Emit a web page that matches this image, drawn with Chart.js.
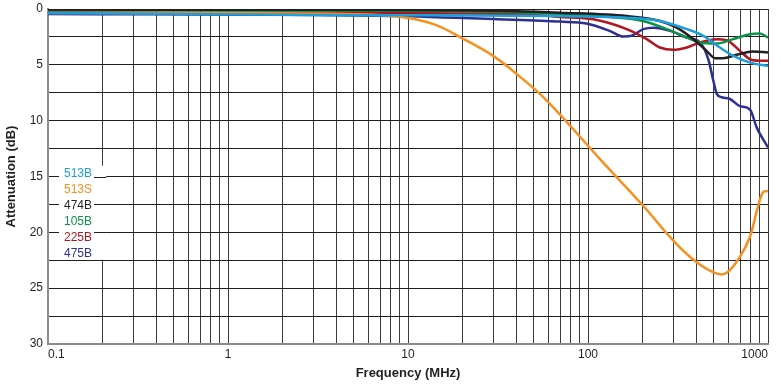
<!DOCTYPE html>
<html>
<head>
<meta charset="utf-8">
<script src="https://cdn.jsdelivr.net/npm/chart.js@4.4.1/dist/chart.umd.min.js"></script>
<style>
  html, body { margin: 0; padding: 0; background: #fff; }
  canvas { display: block; }
</style>
</head>
<body>
<canvas id="graphId" width="781" height="388"></canvas>
<script>
////////////////////////////// data \\\\\\\\\\\\\\\\\\\\\\\\\\\\\\

// axis labels
const decades = [0.1, 1, 10, 100, 1000];
const dbTicks = [0, 5, 10, 15, 20, 25, 30];

// series names + colours (legend order)
const legendNames = ['513B', '513S', '474B', '105B', '225B', '475B'];
const lineColors = ['#1c9fdc', '#f7901e', '#231f20', '#0b9447', '#b0171f', '#2e3192'];

// frequency (MHz) / attenuation (dB)
const f513B = [0.1, 5, 70, 164, 251, 354, 437, 541, 642, 794, 1000];
const db513B = [0.35, 0.55, 0.63, 0.78, 1.07, 1.8, 2.4, 3.45, 4.2, 4.8, 5.1];

const f513S = [0.1, 3, 6, 9.8, 14.1, 19.9, 29.7, 40.2, 59, 119, 202, 304, 403, 521, 592, 698, 794, 869, 938, 1000];
const db513S = [0.35, 0.4, 0.5, 0.78, 1.4, 2.6, 4.2, 5.83, 8.2, 13.6, 17.6, 20.9, 22.7, 23.7, 23.6, 22.2, 20.4, 18.0, 16.4, 16.3];

const f474B = [0.1, 10, 40, 70, 164, 251, 311, 385, 456, 508, 562, 670, 825, 1000];
const db474B = [0.05, 0.1, 0.2, 0.33, 0.63, 1.07, 1.67, 2.7, 3.75, 4.4, 4.4, 4.1, 3.8, 3.9];

const f105B = [0.1, 10, 40, 70, 132, 202, 274, 354, 419, 519, 639, 794, 902, 1000];
const db105B = [0.12, 0.15, 0.3, 0.45, 0.71, 1.07, 1.8, 2.56, 3.0, 3.1, 2.7, 2.26, 2.2, 2.56];

const f225B = [0.1, 10, 40, 70, 107, 164, 212, 251, 298, 354, 419, 519, 590, 698, 794, 902, 1000];
const db225B = [0.3, 0.38, 0.45, 0.71, 0.92, 1.8, 2.7, 3.45, 3.66, 3.45, 3.0, 2.7, 2.8, 3.75, 4.5, 4.64, 4.64];

const f475B = [0.1, 7, 31.6, 70, 98, 132, 157, 175, 203, 231, 286, 354, 419, 466, 497, 519, 553, 615, 698, 794, 865, 1000];
const db475B = [0.45, 0.6, 0.92, 1.13, 1.3, 1.96, 2.47, 2.4, 1.8, 1.67, 1.96, 2.56, 3.0, 4.5, 6.43, 7.6, 7.9, 8.06, 8.7, 9.0, 10.6, 12.4];

const freqs = [f513B, f513S, f474B, f105B, f225B, f475B];
const dbs = [db513B, db513S, db474B, db105B, db225B, db475B];

////////////////////////////// chart \\\\\\\\\\\\\\\\\\\\\\\\\\\\\\

const FONT = '"Liberation Sans", Arial, sans-serif';
const INK = '#231f20';

// grid at 1..9 x each decade
let gridFreqs = [];
for (let d = 0; d < decades.length - 1; d++) {
  for (let k = 1; k <= 9; k++) {
    gridFreqs.push(+(k * decades[d]).toPrecision(3));
  }
}
gridFreqs.push(decades[decades.length - 1]);

let DataArray = [];
for (let i = 0; i < legendNames.length; i++) {
  const smooth = legendNames[i] === '513S';
  DataArray.push({
    label: legendNames[i],
    data: freqs[i].map((f, j) => ({ x: f, y: dbs[i][j] })),
    borderColor: lineColors[i],
    backgroundColor: lineColors[i],
    borderWidth: 2.5,
    pointRadius: 0,
    // the orange one is a long sweep, plain tension looks closer
    cubicInterpolationMode: smooth ? 'default' : 'monotone',
    tension: 0.4,
    fill: false
  });
}

// legend sitting inside the plot, left side
const sideLegend = {
  id: 'sideLegend',
  afterDraw(chart) {
    const ctx = chart.ctx;
    const x = chart.scales.x;
    const y = chart.scales.y;
    const left = x.left + 16;
    const step = 16;
    const top0 = y.getPixelForValue(14.75);
    ctx.save();
    ctx.font = '12px ' + FONT;
    const maxW = Math.max(...legendNames.map(n => ctx.measureText(n).width));
    const boxL = left - 5;
    const boxR = x.getPixelForValue(0.2) + 4;
    const boxT = top0 - 8;
    const boxB = top0 + step * (legendNames.length - 1) + 6;
    ctx.fillStyle = '#fff';
    ctx.fillRect(boxL, boxT, boxR - boxL, boxB - boxT);
    // put the grid back on the right of the names
    ctx.strokeStyle = INK;
    ctx.lineWidth = 1;
    y.ticks.forEach(t => {
      const py = y.getPixelForValue(t.value);
      if (py > boxT && py < boxB) {
        ctx.beginPath();
        ctx.moveTo(left + maxW + 2, Math.round(py) + 0.5);
        ctx.lineTo(boxR, Math.round(py) + 0.5);
        ctx.stroke();
      }
    });
    ctx.textBaseline = 'middle';
    ctx.textAlign = 'left';
    legendNames.forEach((n, i) => {
      ctx.fillStyle = lineColors[i];
      ctx.fillText(n, left, top0 + i * step);
    });
    ctx.restore();
  }
};

const ctx = document.getElementById('graphId').getContext('2d');
const myChart = new Chart(ctx, {
  type: 'line',
  data: { datasets: DataArray },
  plugins: [sideLegend],
  options: {
    responsive: false,
    animation: false,
    layout: { padding: { top: 9, right: 13, left: 0, bottom: 0 } },
    plugins: {
      legend: { display: false },
      tooltip: { enabled: false }
    },
    scales: {
      x: {
        type: 'logarithmic',
        min: 0.1,
        max: 1000,
        afterBuildTicks: s => { s.ticks = gridFreqs.map(v => ({ value: v })); },
        afterFit: s => { s.height = 44; s.paddingLeft = 0; s.paddingRight = 0; },
        ticks: {
          autoSkip: false,
          maxRotation: 0,
          minRotation: 0,
          align: 'inner',
          padding: 3,
          color: INK,
          font: { family: FONT, size: 12 },
          callback: v => decades.includes(v) ? String(v) : ''
        },
        grid: { color: '#3c3c3c', lineWidth: 1, drawTicks: false },
        border: { color: '#8c8c8c', width: 2 },
        title: {
          display: true,
          text: 'Frequency (MHz)',
          color: INK,
          font: { family: FONT, size: 13, weight: 'bold' },
          padding: { top: 2, bottom: 7 }
        }
      },
      y: {
        type: 'linear',
        reverse: true,
        min: 0,
        max: 30,
        afterFit: s => { s.width = 48; s.paddingTop = 0; s.paddingBottom = 0; },
        ticks: {
          stepSize: 2.5,
          padding: 5,
          color: INK,
          font: { family: FONT, size: 12 },
          callback: v => dbTicks.includes(v) ? String(v) : ''
        },
        grid: { color: INK, lineWidth: 1, drawTicks: false },
        border: { color: '#8c8c8c', width: 2 },
        title: {
          display: true,
          text: 'Attenuation (dB)',
          color: INK,
          font: { family: FONT, size: 13, weight: 'bold' },
          padding: { top: 4, bottom: 0 }
        }
      }
    }
  }
});
</script>
</body>
</html>
